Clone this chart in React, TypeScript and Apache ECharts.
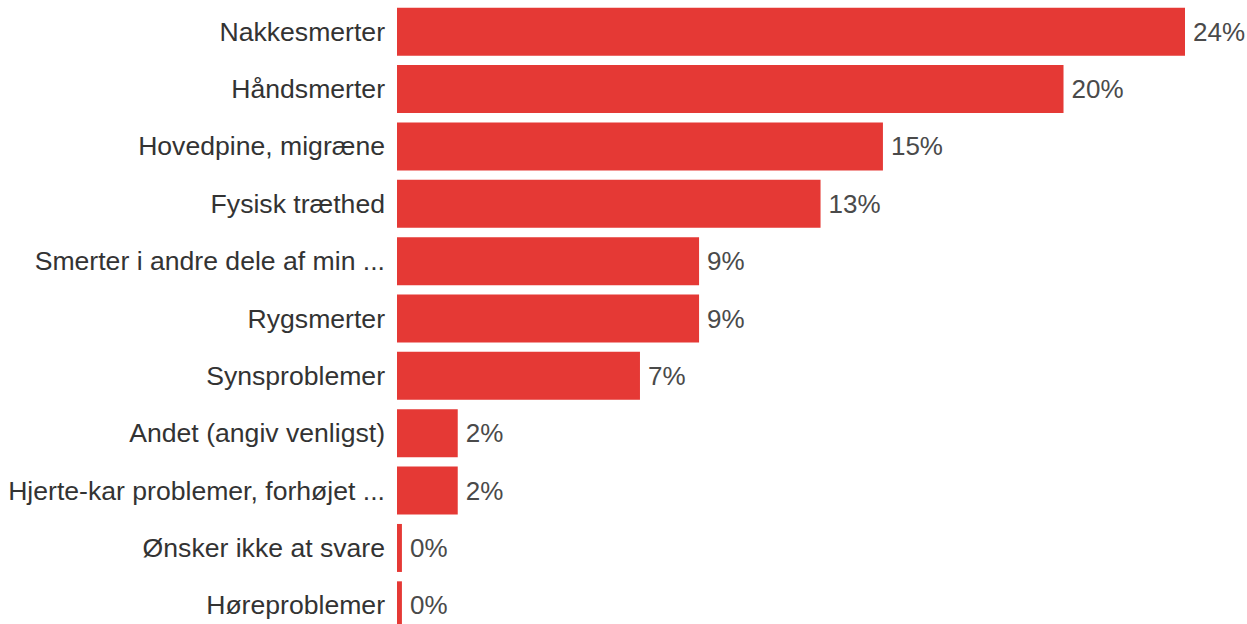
import React, { useEffect, useRef } from "react";
import * as echarts from "echarts";

const categories = [
  "Nakkesmerter",
  "Håndsmerter",
  "Hovedpine, migræne",
  "Fysisk træthed",
  "Smerter i andre dele af min ...",
  "Rygsmerter",
  "Synsproblemer",
  "Andet (angiv venligst)",
  "Hjerte-kar problemer, forhøjet ...",
  "Ønsker ikke at svare",
  "Høreproblemer",
];
const values = [24.0, 20.3, 14.8, 12.9, 9.2, 9.2, 7.4, 1.85, 1.85, 0.15, 0.15];
const valueLabels = ["24%", "20%", "15%", "13%", "9%", "9%", "7%", "2%", "2%", "0%", "0%"];

export default function App() {
  const ref = useRef<HTMLDivElement>(null);
  useEffect(() => {
    if (!ref.current) return;
    const chart = echarts.init(ref.current, null, { renderer: "svg" });
    chart.setOption({
      animation: false,
      grid: { left: 397, top: 3, width: 788, height: 631, containLabel: false },
      xAxis: {
        type: "value",
        min: 0,
        max: 24,
        show: false,
      },
      yAxis: {
        type: "category",
        inverse: true,
        data: categories,
        axisLine: { show: false },
        axisTick: { show: false },
        axisLabel: {
          margin: 12,
          fontSize: 26.6,
          fontFamily: "Liberation Sans, Arial, sans-serif",
          color: "#333333",
        },
      },
      series: [
        {
          type: "bar",
          data: values,
          barWidth: 48,
          itemStyle: { color: "#e53935" },
          label: {
            show: true,
            position: "right",
            distance: 8,
            fontSize: 26,
            fontFamily: "Liberation Sans, Arial, sans-serif",
            color: "#4a4a4a",
            formatter: (p: any) => valueLabels[p.dataIndex],
          },
        },
      ],
    });
    return () => chart.dispose();
  }, []);
  return (
    <div
      ref={ref}
      style={{ position: "absolute", left: 0, top: 0, width: 1247, height: 640 }}
    />
  );
}
